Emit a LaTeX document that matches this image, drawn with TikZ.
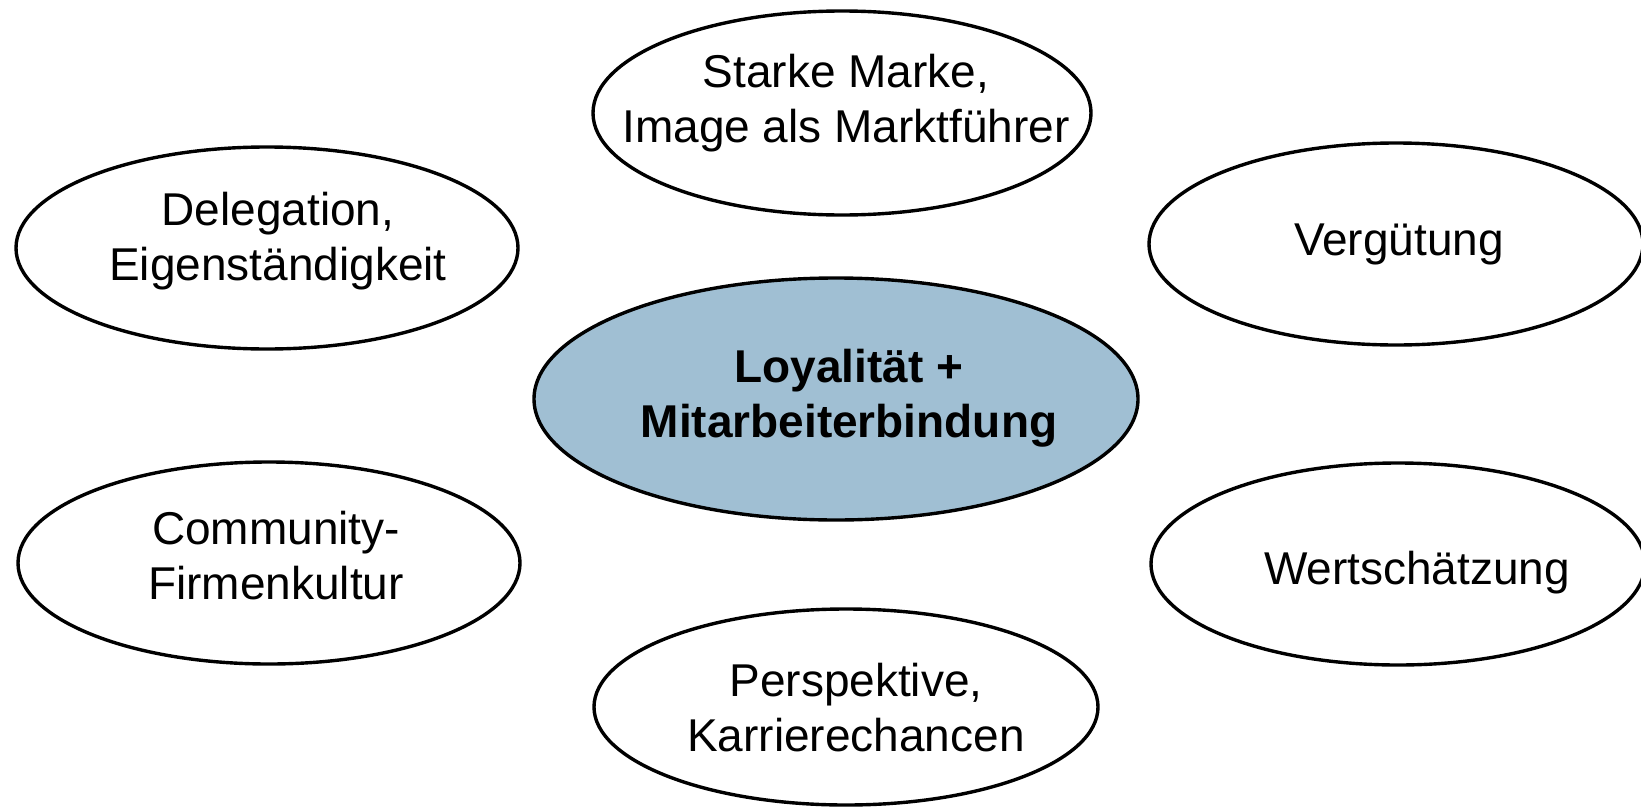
\documentclass[tikz,border=0pt]{standalone}
\usepackage{fontspec}
\setmainfont{Liberation Sans}
\usetikzlibrary{shapes.geometric}
\definecolor{coreblue}{HTML}{A0BFD3}
\tikzset{
  oval/.style={ellipse, draw=black, line width=3.4pt, fill=white, inner sep=0pt},
  core/.style={oval, fill=coreblue},
  lbl/.style={align=center, inner sep=0pt, font=\fontsize{46}{55}\selectfont},
  corelbl/.style={lbl, font=\fontsize{46}{55}\selectfont\bfseries}
}
\begin{document}
\begin{tikzpicture}[x=1pt,y=-1pt]
\useasboundingbox (0,0) rectangle (1641,806);
\node[oval, minimum width=498pt, minimum height=204pt] (starke) at (842,113) {};
\node[lbl] (starket) at (846,103) {Starke Marke,\\Image als Marktführer};
\node[oval, minimum width=502pt, minimum height=202pt] (deleg) at (267,248) {};
\node[lbl] (delegt) at (278,241) {Delegation,\\Eigenständigkeit};
\node[oval, minimum width=494pt, minimum height=202pt] (verg) at (1396,244) {};
\node[lbl] (vergt) at (1399,244) {Vergütung};
\node[core, minimum width=604pt, minimum height=242pt] (center) at (836,399) {};
\node[corelbl] (centert) at (849,398) {Loyalität +\\Mitarbeiterbindung};
\node[oval, minimum width=502pt, minimum height=202pt] (comm) at (269,563) {};
\node[lbl] (commt) at (276,556) {Community-\\Firmenkultur};
\node[oval, minimum width=494pt, minimum height=202pt] (wert) at (1398,564) {};
\node[lbl] (wertt) at (1417,573) {Wertschätzung};
\node[oval, minimum width=504pt, minimum height=196pt] (persp) at (846,707) {};
\node[lbl] (perspt) at (856,708) {Perspektive,\\Karrierechancen};
\end{tikzpicture}
\end{document}
